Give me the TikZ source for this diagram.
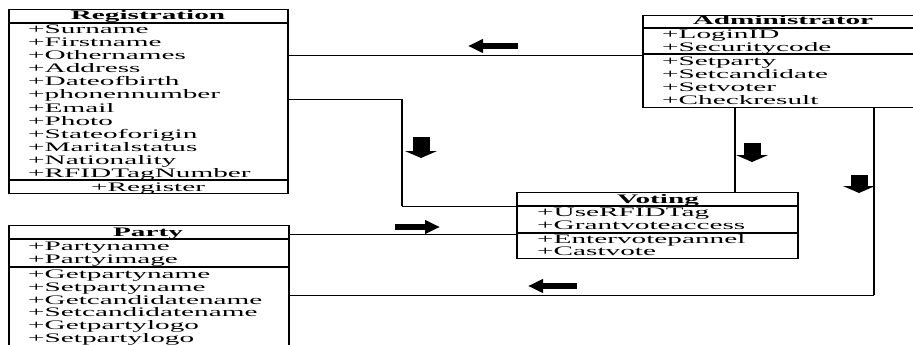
\documentclass[tikz,border=0pt]{standalone}
\usepackage{fontspec}
\setmainfont{Liberation Serif}[FakeStretch=2.25]
\usetikzlibrary{arrows.meta}
\begin{document}
\begin{tikzpicture}[x=1pt,y=-1pt,
 cls/.style={draw, line width=1.1pt, inner sep=0pt, anchor=north west},
 txt/.style={anchor=base west, inner sep=0pt, font=\fontsize{13}{13}\selectfont},
 ttl/.style={anchor=base, inner sep=0pt, font=\fontsize{13}{13}\selectfont\bfseries},
 sep/.style={line width=1.1pt},
 side/.style={line width=2.4pt},
 conn/.style={line width=0.9pt},
 vconn/.style={line width=1.8pt},
 harrow/.style={line width=6pt, -{Triangle[length=15pt,width=13pt]}},
 varrow/.style={line width=17pt, -{Triangle[length=7pt,width=32pt]}}]
\useasboundingbox (0,0) rectangle (913,345);
\fill[white] (0,0) rectangle (913,345);
\clip (0,0) rectangle (913,345);

% ---------- Registration
\node[cls, minimum width=278pt, minimum height=184pt] (reg) at (9,9) {};
\draw[side] (reg.north west) -- (reg.south west);
\draw[side] (reg.north east) -- (reg.south east);
\draw[sep] (9,23) -- (287,23);
\draw[sep] (9,180) -- (287,180);
\node[ttl] (regT) at (148,20) {Registration};
\foreach \t [count=\i from 0] in {Surname,Firstname,Othernames,Address,Dateofbirth,phonennumber,Email,Photo,Stateoforigin,Maritalstatus,Nationality,RFIDTagNumber}
  \node[txt] (regA\i) at (28,{33.5+13.1*\i}) {+\t};
\node[ttl, font=\fontsize{13}{13}\selectfont] (regM) at (148,191) {+Register};

% ---------- Party
\node[cls, minimum width=279pt, minimum height=125pt] (par) at (9,225) {};
\draw[side] (par.north west) -- (par.south west);
\draw[side] (par.north east) -- (par.south east);
\draw[sep] (9,239) -- (288,239);
\draw[sep] (9,267) -- (288,267);
\node[ttl] (parT) at (148,236) {Party};
\node[txt] (parA0) at (28,250.5) {+Partyname};
\node[txt] (parA1) at (28,263) {+Partyimage};
\foreach \t [count=\i from 0] in {Getpartyname,Setpartyname,Getcandidatename,Setcandidatename,Getpartylogo,Setpartylogo}
  \node[txt] (parM\i) at (28,{278.5+12.8*\i}) {+\t};

% ---------- Administrator
\node[cls, minimum width=285pt, minimum height=92pt] (adm) at (643,15) {};
\draw[side] (adm.north west) -- (adm.south west);
\draw[sep] (643,28) -- (913,28);
\draw[sep] (643,54) -- (913,54);
\node[ttl] (admT) at (783,25) {Administrator};
\node[txt] (admA0) at (662,38.5) {+LoginID};
\node[txt] (admA1) at (662,51.5) {+Securitycode};
\foreach \t [count=\i from 0] in {Setparty,Setcandidate,Setvoter,Checkresult}
  \node[txt] (admM\i) at (662,{66+12.8*\i}) {+\t};

% ---------- Voting
\node[cls, minimum width=280pt, minimum height=66pt] (vot) at (517,192) {};
\draw[side] (vot.north west) -- (vot.south west);
\draw[side] (vot.north east) -- (vot.south east);
\draw[sep] (517,206) -- (797,206);
\draw[sep] (517,233) -- (797,233);
\node[ttl] (votT) at (658,203) {Voting};
\node[txt] (votA0) at (537,216.5) {+UseRFIDTag};
\node[txt] (votA1) at (537,229.5) {+Grantvoteaccess};
\node[txt] (votM0) at (537,243) {+Entervotepannel};
\node[txt] (votM1) at (537,255) {+Castvote};

% ---------- connectors
\coordinate (c1) at (402,99);
\coordinate (c2) at (402,206);
\coordinate (c3) at (874,295);
\draw[conn] (reg.east |- 0,55) -- (adm.west |- 0,55);
\draw[conn] (reg.east |- c1) -- (c1);
\draw[vconn] (c1) -- (c2);
\draw[conn] (c2) -- (vot.west |- c2);
\draw[conn] (par.east |- 0,234) -- (vot.west |- 0,234);
\draw[vconn] (adm.south -| 735,0) -- (vot.north -| 735,0);
\draw[vconn] (adm.south -| c3) -- (c3);
\draw[conn] (c3) -- (par.east |- c3);

% ---------- direction arrows
\draw[harrow] (518,46) -- (468,46);
\draw[varrow] (421,137) -- (421,158);
\draw[varrow] (752,143) -- (752,162);
\draw[varrow] (859,175) -- (859,193);
\draw[harrow] (395,227) -- (440,227);
\draw[harrow] (577,286) -- (528,286);
\end{tikzpicture}
\end{document}
